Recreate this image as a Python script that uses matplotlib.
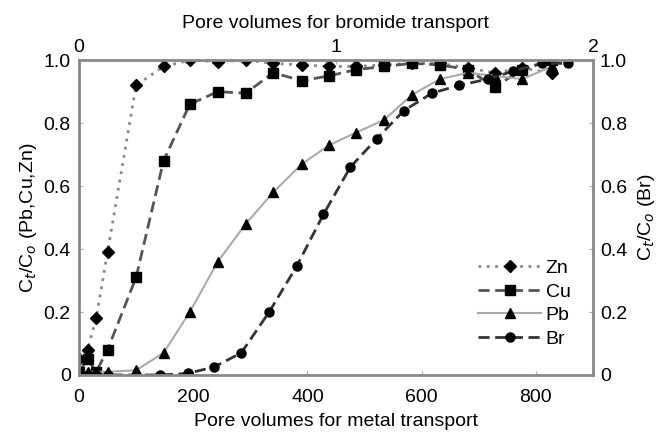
import matplotlib.pyplot as plt

plt.rcParams["font.family"] = ["Liberation Sans", "DejaVu Sans"]

# pore volumes (metal transport) where metals were sampled
metal_pv = [0, 15, 30, 50, 100, 148, 194, 243, 292, 340, 390, 438, 485, 534,
            583, 632, 681, 728, 776, 828]
zn = [0.05, 0.08, 0.18, 0.39, 0.92, 0.98, 1.0, 0.995, 1.0, 0.99, 0.985, 0.98,
      0.98, 0.985, 0.99, 0.99, 0.975, 0.96, 0.975, 0.96]
cu = [0.01, 0.05, 0.01, 0.08, 0.31, 0.68, 0.86, 0.90, 0.895, 0.96, 0.935, 0.95,
      0.97, 0.98, 0.99, 0.985, 0.97, 0.915, 0.97, 1.0]
pb = [0.01, 0.01, 0.01, 0.01, 0.015, 0.07, 0.2, 0.36, 0.48, 0.58, 0.67, 0.73,
      0.77, 0.81, 0.89, 0.94, 0.96, 0.95, 0.94, 0.98]

# bromide, same x scale (metal pore volumes)
br_pv = [0, 15, 30, 50, 100, 142, 190, 236, 284, 333, 381, 428, 475, 521, 569,
         618, 665, 716, 760, 810, 856]
br = [0.01, 0.0, 0.0, 0.0, 0.0, 0.0, 0.005, 0.025, 0.07, 0.2, 0.345, 0.51,
      0.66, 0.75, 0.84, 0.895, 0.92, 0.94, 0.965, 0.99, 0.99]

y_ticks = [0, 0.2, 0.4, 0.6, 0.8, 1.0]
y_labels = ["0", "0.2", "0.4", "0.6", "0.8", "1.0"]

PV_RATIO = 450  # metal pore volumes per bromide pore volume
FS = 14

fig = plt.figure(figsize=(6.66, 4.33), dpi=100)
ax = fig.add_axes([0.1186, 0.134, 0.7718, 0.727])

ms = 6.5
ax.plot(metal_pv, zn, linestyle=(0, (1, 2)), color="#888888", lw=2,
        marker="D", ms=ms - 0.5, mfc="black", mec="black", label="Zn")
ax.plot(metal_pv, cu, linestyle=(0, (4, 2)), color="#555555", lw=2,
        marker="s", ms=ms, mfc="black", mec="black", label="Cu")
ax.plot(metal_pv, pb, linestyle="-", color="#aaaaaa", lw=1.5,
        marker="^", ms=ms + 1, mfc="black", mec="black", label="Pb")
ax.plot(br_pv, br, linestyle=(0, (4, 2)), color="#333333", lw=2,
        marker="o", ms=ms, mfc="black", mec="black", label="Br")

ax.set_xlim(0, 900)
ax.set_ylim(0, 1.0)
ax.set_xticks([0, 200, 400, 600, 800])
ax.set_yticks(y_ticks)
ax.set_yticklabels(y_labels)

for s in ax.spines.values():
    s.set_color("#888888")
    s.set_linewidth(2)

ax.tick_params(axis="x", direction="in", length=3, color="#aaaaaa",
               labelsize=FS, pad=10)
ax.tick_params(axis="y", direction="in", length=3, color="#aaaaaa",
               labelsize=FS, pad=6)
ax.set_xlabel("Pore volumes for metal transport", fontsize=FS, labelpad=5)
ax.set_ylabel("C$_t$/C$_o$ (Pb,Cu,Zn)", fontsize=FS, labelpad=3)

# top axis: bromide pore volumes
top = ax.secondary_xaxis("top", functions=(lambda x: x / PV_RATIO,
                                           lambda x: x * PV_RATIO))
top.set_xticks([0, 1, 2])
top.tick_params(direction="in", length=3, color="#aaaaaa", labelsize=FS, pad=3)
top.set_xlabel("Pore volumes for bromide transport", fontsize=FS, labelpad=8)
top.spines["top"].set_visible(False)

# right axis: bromide concentration
right = ax.secondary_yaxis("right")
right.set_yticks(y_ticks)
right.set_yticklabels(y_labels)
right.tick_params(direction="in", length=3, color="#aaaaaa", labelsize=FS,
                  pad=5)
right.set_ylabel("C$_t$/C$_o$ (Br)", fontsize=FS, labelpad=6)
right.spines["right"].set_visible(False)

ax.legend(loc="lower right", bbox_to_anchor=(0.975, 0.056), frameon=False,
          fontsize=FS, handlelength=3.2, labelspacing=0.3, handletextpad=0.25,
          borderpad=0)

fig.savefig("out.png", dpi=100)
